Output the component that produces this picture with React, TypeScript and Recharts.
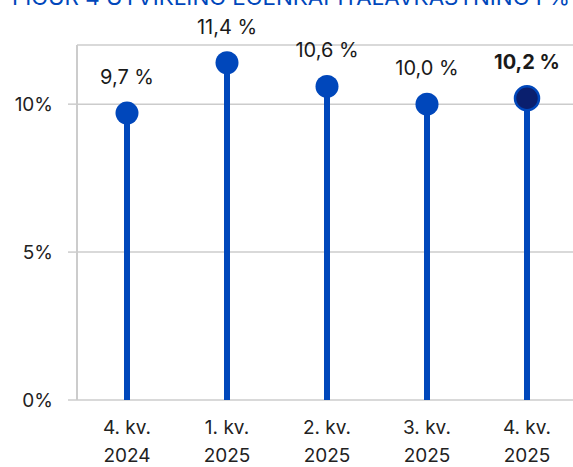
import React from "react";
import { ComposedChart, Bar, XAxis, YAxis, CartesianGrid, LabelList } from "recharts";

const categories = ["4. kv.|2024", "1. kv.|2025", "2. kv.|2025", "3. kv.|2025", "4. kv.|2025"];
const values = [9.7, 11.4, 10.6, 10.0, 10.2];
const valueLabels = ["9,7 %", "11,4 %", "10,6 %", "10,0 %", "10,2 %"];
const yTicks = [0, 5, 10];
const yTickLabels = ["0%", "5%", "10%"];
const title = "FIGUR 4 UTVIKLING EGENKAPITALAVKASTNING I %";

const data = categories.map((c, i) => ({ cat: c, value: values[i], label: valueLabels[i] }));

const BLUE = "#0047BB";
const NAVY = "#0A1F6E";
const FONT = "Inter, 'Noto Sans', sans-serif";

const Lollipop = (props: any) => {
  const { x, y, width, height, index } = props;
  const cx = x + width / 2;
  const last = index === data.length - 1;
  return (
    <g>
      <rect x={cx - 3} y={y} width={6} height={height} fill={BLUE} />
      {last ? (
        <circle cx={cx} cy={y} r={12} fill={NAVY} stroke={BLUE} strokeWidth={2.5} />
      ) : (
        <circle cx={cx} cy={y} r={11.5} fill={BLUE} />
      )}
    </g>
  );
};

const ValueLabel = (props: any) => {
  const { x, y, width, index } = props;
  const cx = x + width / 2;
  const last = index === data.length - 1;
  return (
    <text x={cx} y={y - 36} textAnchor="middle" dominantBaseline="central" fontFamily={FONT} fontSize={20} fontWeight={last ? 700 : 400} fill="#1a1a1a">
      {data[index].label}
    </text>
  );
};

const XTick = (props: any) => {
  const { x, y, payload } = props;
  const [a, b] = String(payload.value).split("|");
  return (
    <g>
      <text x={x} y={y + 19} textAnchor="middle" dominantBaseline="central" fontFamily={FONT} fontSize={19} fill="#222">{a}</text>
      <text x={x} y={y + 47} textAnchor="middle" dominantBaseline="central" fontFamily={FONT} fontSize={19} fill="#222">{b}</text>
    </g>
  );
};

const YTick = (props: any) => {
  const { x, y, payload } = props;
  const i = yTicks.indexOf(payload.value);
  return (
    <text x={x} y={y} textAnchor="end" dominantBaseline="central" fontFamily={FONT} fontSize={19} fill="#222">
      {yTickLabels[i]}
    </text>
  );
};

export default function App() {
  return (
    <div style={{ position: "fixed", left: 0, top: 0, width: 573, height: 467, overflow: "hidden", background: "#fff" }}>
      <div style={{ position: "absolute", left: 0, top: 0 }}>
        <ComposedChart width={577} height={467} data={data} margin={{ top: 45, right: 0, bottom: 0, left: 0 }}>
          <CartesianGrid vertical={false} stroke="#cccccc" strokeWidth={1.5} />
          <XAxis dataKey="cat" axisLine={false} tickLine={false} tick={<XTick />} interval={0} height={67} />
          <YAxis
            domain={[0, 12]}
            ticks={yTicks}
            width={77}
            axisLine={{ stroke: "#cccccc", strokeWidth: 2 }}
            tickLine={{ stroke: "#cccccc", strokeWidth: 1.5 }}
            tickSize={9}
            tickMargin={15}
            tick={<YTick />}
          />
          <Bar dataKey="value" isAnimationActive={false} shape={<Lollipop />}>
            <LabelList dataKey="label" content={<ValueLabel />} />
          </Bar>
        </ComposedChart>
      </div>
      <svg width={573} height={30} style={{ position: "absolute", left: 0, top: 0, zIndex: 2 }}>
        <text x={12} y={5} textLength={558} lengthAdjust="spacingAndGlyphs" fontFamily={FONT} fontSize={22} fill={BLUE}>{title}</text>
      </svg>
    </div>
  );
}
